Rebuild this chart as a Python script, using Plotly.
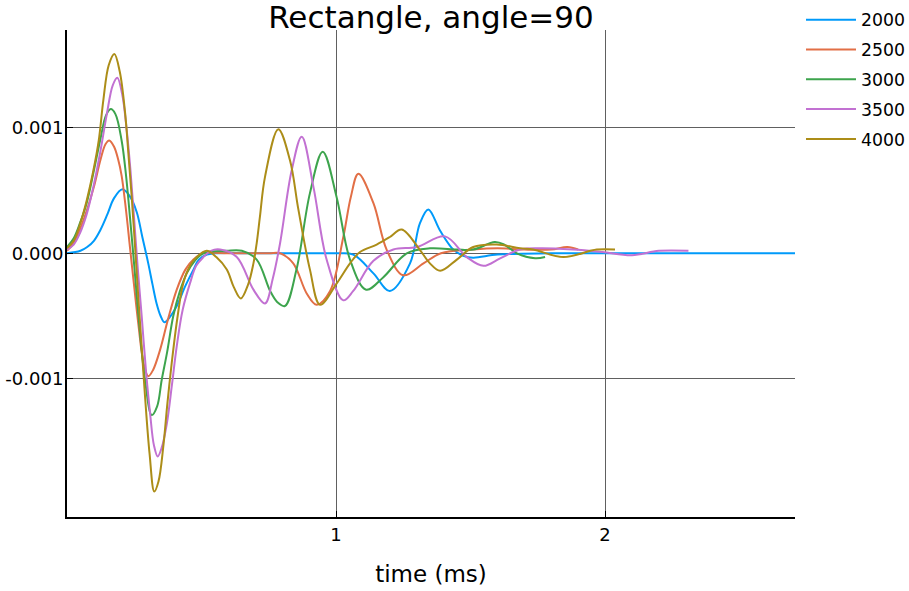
import plotly.graph_objects as go

# ---- data (time in ms, amplitude) ----
series_names = ["2000", "2500", "3000", "3500", "4000"]
series_colors = ["#009AFA", "#E26F46", "#3DA44D", "#C271D2", "#AC8D18"]

t_2000 = [0.0, 0.05, 0.075, 0.1, 0.125, 0.15, 0.175, 0.206, 0.232, 0.259, 0.28, 0.302, 0.318, 0.333, 0.348,
          0.362, 0.385, 0.408, 0.44, 0.47, 0.49, 0.52, 0.55,
          0.7, 0.9, 1.0, 1.064, 1.139, 1.2, 1.275, 1.312, 1.343, 1.387, 1.436, 1.473, 1.51, 1.6, 1.8, 2.2, 2.706]
y_2000 = [0.0, 0.00002, 0.00005, 0.0001, 0.00019, 0.00031, 0.00044, 0.00051, 0.00046, 0.00033, 0.00013,
          -0.00008, -0.00025, -0.0004, -0.0005, -0.00055, -0.0005, -0.00042, -0.00026, -0.00013, -0.00005,
          -0.00001, 0.0,
          0.0, 0.0, 0.0, -0.00001, -0.00016, -0.0003, -0.00008, 0.00024, 0.00035,
          0.00018, 0.00003, -0.00002, -0.000035, -0.00001, 0.0, 0.0, 0.0]

t_2500 = [0.0, 0.025, 0.05, 0.075, 0.1, 0.125, 0.143, 0.157, 0.175, 0.19, 0.203, 0.219, 0.234, 0.25, 0.265,
          0.285, 0.302, 0.32, 0.346, 0.375, 0.408, 0.44, 0.47, 0.507, 0.6, 0.75,
          0.792, 0.841, 0.891, 0.928, 0.978, 1.027, 1.055, 1.083, 1.139, 1.188, 1.25, 1.325, 1.39, 1.51,
          1.6, 1.7, 1.8, 1.86, 1.9]
y_2500 = [0.00002, 0.00008, 0.0002, 0.00035, 0.00053, 0.00075, 0.00087, 0.0009, 0.00085, 0.00075, 0.00062,
          0.00035, 0.00005, -0.00027, -0.00056, -0.00088, -0.00098, -0.00093, -0.00077, -0.00053, -0.00029,
          -0.00013, -0.00005, 0.0, 0.0, 0.0,
          0.0, -0.00008, -0.00032, -0.00041, -0.0003, 0.00013, 0.00045,
          0.000635, 0.0004, 0.00003, -0.000175, -0.00008, 0.0, 0.00003, 0.00004, 0.00003, 0.00003, 0.00005,
          0.00003]

t_3000 = [0.0, 0.025, 0.048, 0.073, 0.098, 0.125, 0.145, 0.1625, 0.18, 0.203, 0.219, 0.234, 0.25, 0.265,
          0.29, 0.315, 0.335, 0.352, 0.372, 0.395, 0.42, 0.445, 0.475, 0.507,
          0.594, 0.65, 0.705, 0.755, 0.782, 0.81, 0.853, 0.903, 0.9506, 1.002, 1.052, 1.112, 1.176, 1.263, 1.349,
          1.45, 1.51, 1.59, 1.625, 1.672, 1.74, 1.777]
y_3000 = [0.00005, 0.00012, 0.00024, 0.0004, 0.00064, 0.00092, 0.0011, 0.00115, 0.00111, 0.0009, 0.00063,
          0.00029, -0.0001, -0.00048, -0.00101, -0.00129, -0.00122, -0.00101, -0.00079, -0.0005, -0.0003,
          -0.00016, -0.00006, 0.0,
          0.00002, 0.00002, -0.00005, -0.0003, -0.00039, -0.00042, -0.00013,
          0.00048, 0.00081, 0.00045, -0.00005, -0.00029, -0.00019, 0.0, 0.00004, 0.00003, 0.00003,
          0.00009, 0.00007, 0.0, -0.00004, -0.00003]

t_3500 = [0.0, 0.025, 0.048, 0.073, 0.098, 0.123, 0.148, 0.17, 0.187, 0.205, 0.222, 0.236, 0.249, 0.263,
          0.278, 0.294, 0.309, 0.323, 0.337, 0.352, 0.371, 0.39, 0.408, 0.43, 0.457, 0.48, 0.507, 0.535,
          0.569, 0.631, 0.693, 0.736, 0.765, 0.792, 0.835, 0.8725, 0.916, 0.965, 1.027, 1.064, 1.139, 1.213,
          1.3, 1.405, 1.486, 1.548, 1.61, 1.684, 1.76, 1.88, 1.99, 2.1, 2.2, 2.31]
y_3500 = [0.00003, 0.00007, 0.00016, 0.00031, 0.00053, 0.0008, 0.00111, 0.00134, 0.0014, 0.00127, 0.00098,
          0.00066, 0.00029, -0.00012, -0.00051, -0.00095, -0.00128, -0.00153, -0.00162, -0.00155, -0.00136,
          -0.00105, -0.00074, -0.00045, -0.00024, -0.0001, -0.00003, 0.00002,
          0.00003, -0.00003, -0.00029, -0.0004, -0.0002, 0.00008, 0.00066,
          0.00093, 0.00053, -0.00005, -0.000375, -0.0003, -0.00006, 0.00003, 0.00005, 0.000135, -0.00003,
          -0.0001, -0.00004, 0.00003, 0.00004, 0.00003, 0.00001, -0.000015, 0.00002, 0.00002]

t_4000 = [0.0, 0.025, 0.048, 0.073, 0.098, 0.118, 0.135, 0.155, 0.176, 0.196, 0.216, 0.228, 0.2405, 0.253,
          0.265, 0.278, 0.29, 0.307, 0.3245, 0.34, 0.358, 0.373, 0.389, 0.41, 0.432, 0.457, 0.482,
          0.519, 0.555, 0.594, 0.62, 0.646, 0.673, 0.693, 0.705, 0.717, 0.736, 0.7855, 0.829, 0.86, 0.903, 0.9405,
          1.0026, 1.052, 1.089, 1.151, 1.2, 1.244, 1.312, 1.349, 1.387, 1.449, 1.51, 1.597, 1.684, 1.733, 1.845,
          1.969, 2.037]
y_4000 = [0.00004, 0.0001, 0.00023, 0.00042, 0.00066, 0.0009, 0.00122, 0.0015, 0.00159, 0.00145, 0.00112,
          0.0008, 0.00045, 0.00005, -0.00035, -0.00076, -0.00114, -0.0016, -0.0019, -0.00182, -0.00154,
          -0.0012, -0.00088, -0.00052, -0.00024, -0.0001, -0.00003,
          0.00002, -0.00003, -0.00013, -0.00027, -0.00036, -0.00025, -0.00008, 0.00008, 0.00029,
          0.00061, 0.00099, 0.00074, 0.00035, -0.00013, -0.00041, -0.00024, -0.00008, 0.00001, 0.00007,
          0.00013, 0.00019, 0.000026, -0.00008, -0.00014, -0.00005, 0.00005, 0.00007, 0.00004, 0.00003,
          -0.00003, 0.00003, 0.00003]

x_tick_vals = [1, 2]
x_tick_text = ["1", "2"]
y_tick_vals = [-0.001, 0.0, 0.001]
y_tick_text = ["-0.001", "0.000", "0.001"]

all_t = [t_2000, t_2500, t_3000, t_3500, t_4000]
all_y = [y_2000, y_2500, y_3000, y_3500, y_4000]

FONT = "DejaVu Sans"

fig = go.Figure()
for name, color, tt, yy in zip(series_names, series_colors, all_t, all_y):
    fig.add_trace(go.Scatter(
        x=tt, y=yy, mode="lines", name=name, legendgroup=name,
        line=dict(color=color, width=2, shape="spline", smoothing=1.0),
    ))

fig.update_layout(
    width=909, height=591,
    margin=dict(l=67, r=114, t=30, b=74),
    paper_bgcolor="white", plot_bgcolor="white",
    font=dict(family=FONT, color="black"),
    title=dict(text="Rectangle, angle=90", font=dict(family=FONT, size=31, color="black"),
               x=0.5, xref="paper", xanchor="center", yref="container", y=1 - 17 / 591, yanchor="middle"),
    showlegend=True,
    legend=dict(xref="container", x=801 / 909, xanchor="left",
                yref="container", y=1 - 2 / 591, yanchor="top",
                font=dict(family=FONT, size=17.3, color="black"),
                tracegroupgap=4.3, itemwidth=50, bgcolor="rgba(255,255,255,0)"),
)
fig.update_xaxes(
    range=[0, 2.706], tickvals=x_tick_vals, ticktext=x_tick_text,
    ticks="inside", ticklen=6, tickcolor="black", tickwidth=1,
    showline=True, linecolor="black", linewidth=2, mirror=False,
    showgrid=True, gridcolor="#606060", gridwidth=1, zeroline=False,
    tickfont=dict(family=FONT, size=18, color="black"), ticklabelstandoff=0,
    title=dict(text="time (ms)", font=dict(family=FONT, size=23, color="black"), standoff=22),
    automargin=False,
)
fig.update_yaxes(
    range=[-0.002103, 0.001781], tickvals=y_tick_vals, ticktext=y_tick_text,
    ticks="inside", ticklen=6, tickcolor="black", tickwidth=1,
    showline=True, linecolor="black", linewidth=2, mirror=False,
    showgrid=True, gridcolor="#606060", gridwidth=1, zeroline=False,
    tickfont=dict(family=FONT, size=18, color="black"), ticklabelstandoff=-2,
    automargin=False,
)

fig.write_html("out.html", config={"displayModeBar": False},
               post_script="document.body.style.margin='0px';")
